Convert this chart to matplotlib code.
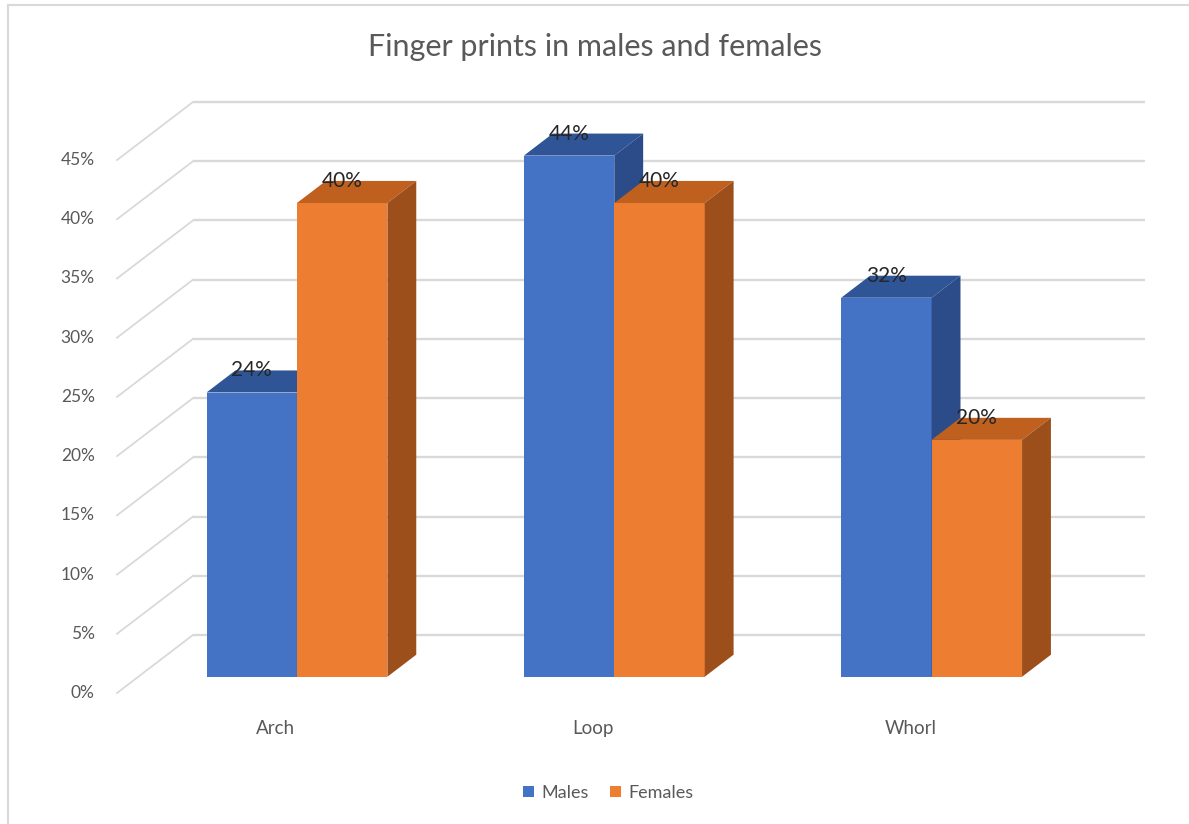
import numpy as np
import matplotlib
matplotlib.use("Agg")
import matplotlib.pyplot as plt
from matplotlib.patches import Polygon, Patch
from matplotlib.lines import Line2D

plt.rcParams['font.family'] = ['Lato', 'DejaVu Sans']

# data
categories = ['Arch', 'Loop', 'Whorl']
series = ['Males', 'Females']
males = [24, 44, 32]
females = [40, 40, 20]
yticks = [0, 5, 10, 15, 20, 25, 30, 35, 40, 45]
title = 'Finger prints in males and females'

# colours: front, top, side
cols = {
    'Males': ('#4472C4', '#2F5597', '#2B4C88'),
    'Females': ('#ED7D31', '#C0601F', '#9C4F1B'),
}
grid_c = '#D9D9D9'
text_c = '#595959'

W, H = 1189, 824
fig = plt.figure(figsize=(W / 100, H / 100), dpi=100)

# oblique projection: wall depth in data units
DX, DY = 0.2395, 4.9
F0, F1 = 0.28, 0.66      # bar front / back as fraction of depth
BW = 0.285              # bar width

left, right = 117 / W, 1145 / W
bottom, top = (H - 693) / H, (H - 102) / H
ax = fig.add_axes([left, bottom, right - left, top - bottom])
ax.set_xlim(-0.5, 2.5 + DX)
ax.set_ylim(0, 45 + DY)
ax.axis('off')

# walls / gridlines
for t in yticks:
    ax.plot([-0.5 + DX, 2.5 + DX], [t + DY, t + DY], color=grid_c, lw=1.7,
            solid_capstyle='butt', zorder=1, clip_on=False)
    ax.plot([-0.5, -0.5 + DX], [t, t + DY], color=grid_c, lw=1.3,
            zorder=1, clip_on=False)
    ax.text(-0.57, t, f'{t}%', ha='right', va='center', fontsize=12.5,
            color=text_c)


def bar3d(x0, v, c):
    front, topc, side = c
    a, b = F0 * DX, F0 * DY
    cx, cy = (F1 - F0) * DX, (F1 - F0) * DY
    x1 = x0 + BW
    ax.add_patch(Polygon([(x0 + a, b), (x1 + a, b), (x1 + a, v + b), (x0 + a, v + b)],
                         closed=True, fc=front, ec='none', zorder=3))
    ax.add_patch(Polygon([(x0 + a, v + b), (x1 + a, v + b), (x1 + a + cx, v + b + cy),
                          (x0 + a + cx, v + b + cy)], closed=True, fc=topc, ec='none', zorder=3))
    ax.add_patch(Polygon([(x1 + a, b), (x1 + a, v + b), (x1 + a + cx, v + b + cy),
                          (x1 + a + cx, b + cy)], closed=True, fc=side, ec='none', zorder=3))
    ax.text(x0 + a + BW / 2, v + b + cy, f'{v}%', ha='center', va='center',
            fontsize=15, color='#262626', zorder=5)


for i, cat in enumerate(categories):
    bar3d(i - BW, males[i], cols['Males'])
    bar3d(i, females[i], cols['Females'])
    ax.text(i, -3.0, cat, ha='center', va='center', fontsize=13.5, color=text_c)

fig.text(0.5, 1 - 47 / H, title, ha='center', va='center', fontsize=22,
         color=text_c)

handles = [Patch(fc=cols[s][0], ec='none') for s in series]
fig.legend(handles, series, loc='center', bbox_to_anchor=(608 / W, 1 - 793 / H),
           ncol=2, frameon=False, fontsize=13, handlelength=0.6, handleheight=0.6,
           handletextpad=0.4, columnspacing=1.2, labelcolor=text_c)

# outer border (left and top)
fig.add_artist(Line2D([8 / W, 8 / W], [0, 1 - 5 / H], color=grid_c, lw=1.5))
fig.add_artist(Line2D([8 / W, 1], [1 - 5 / H, 1 - 5 / H], color=grid_c, lw=1.5))

fig.savefig('out.png', dpi=100, facecolor='white')
